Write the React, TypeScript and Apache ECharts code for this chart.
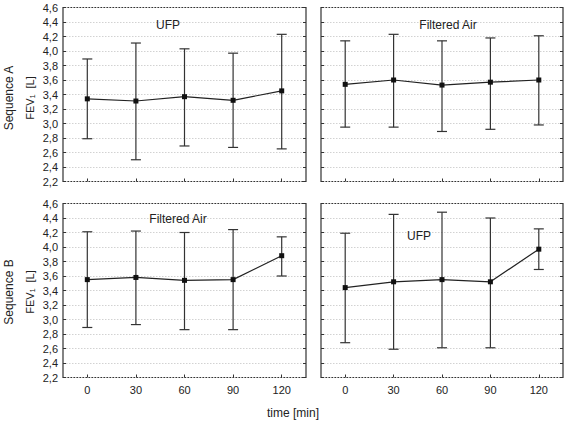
import React, { useEffect, useRef } from "react";
import * as echarts from "echarts";

const times = ["0", "30", "60", "90", "120"];
const yTicks = [2.2, 4.6];

// Sequence A, UFP
const aUfpMean = [3.34, 3.31, 3.37, 3.32, 3.45];
const aUfpLow = [2.79, 2.5, 2.69, 2.67, 2.65];
const aUfpHigh = [3.89, 4.11, 4.03, 3.97, 4.23];
// Sequence A, Filtered Air
const aFaMean = [3.54, 3.6, 3.53, 3.57, 3.6];
const aFaLow = [2.95, 2.95, 2.89, 2.92, 2.98];
const aFaHigh = [4.14, 4.23, 4.14, 4.18, 4.21];
// Sequence B, Filtered Air
const bFaMean = [3.55, 3.58, 3.54, 3.55, 3.88];
const bFaLow = [2.89, 2.93, 2.86, 2.86, 3.6];
const bFaHigh = [4.21, 4.22, 4.2, 4.24, 4.14];
// Sequence B, UFP
const bUfpMean = [3.44, 3.52, 3.55, 3.52, 3.97];
const bUfpLow = [2.68, 2.59, 2.61, 2.61, 3.69];
const bUfpHigh = [4.19, 4.45, 4.48, 4.4, 4.25];

const panelTitles = ["UFP", "Filtered Air", "Filtered Air", "UFP"];

const FONT = "'Liberation Sans', Arial, sans-serif";
const TEXT = "#222";

export default function App() {
  const ref = useRef<HTMLDivElement>(null);
  useEffect(() => {
    if (!ref.current) return;
    const chart = echarts.init(ref.current, undefined, { renderer: "svg" });

    const grids = [
      { left: 63, top: 7.5, width: 243, height: 174 },
      { left: 321, top: 7.5, width: 242, height: 174 },
      { left: 63, top: 203.5, width: 243, height: 174 },
      { left: 321, top: 203.5, width: 242, height: 174 },
    ];
    const panels = [
      { mean: aUfpMean, low: aUfpLow, high: aUfpHigh },
      { mean: aFaMean, low: aFaLow, high: aFaHigh },
      { mean: bFaMean, low: bFaLow, high: bFaHigh },
      { mean: bUfpMean, low: bUfpLow, high: bUfpHigh },
    ];

    const xAxis: any[] = [];
    const yAxis: any[] = [];
    const series: any[] = [];

    grids.forEach((g, i) => {
      const showX = i >= 2;
      const showY = i % 2 === 0;
      xAxis.push({
        type: "category",
        gridIndex: i,
        data: times,
        boundaryGap: true,
        axisLine: { show: false },
        axisTick: { show: true, inside: true, alignWithLabel: true, length: 3, lineStyle: { color: "#333" } },
        axisLabel: { show: showX, fontFamily: FONT, fontSize: 11, color: TEXT, margin: 7 },
        splitLine: { show: false },
      });
      const yBase = {
        type: "value",
        gridIndex: i,
        min: yTicks[0],
        max: yTicks[1],
        interval: 0.2,
        axisLine: { show: false },
        axisTick: { show: true, inside: true, length: 3, lineStyle: { color: "#333" } },
      };
      yAxis.push({
        ...yBase,
        position: "left",
        axisLabel: {
          show: showY,
          fontFamily: FONT,
          fontSize: 11,
          color: TEXT,
          margin: 5,
          formatter: (v: number) => v.toFixed(1).replace(".", ","),
        },
        splitLine: { show: true, lineStyle: { color: "#d2d2d2", type: [1.5, 1.5], width: 1 } },
      });
      yAxis.push({
        ...yBase,
        position: "right",
        axisLabel: { show: false },
        splitLine: { show: false },
      });
      const p = panels[i];
      series.push({
        type: "custom",
        xAxisIndex: i,
        yAxisIndex: i * 2,
        data: times.map((_, k) => [k, p.low[k], p.high[k]]),
        renderItem: (params: any, api: any) => {
          const x = api.value(0);
          const lo = api.coord([x, api.value(1)]);
          const hi = api.coord([x, api.value(2)]);
          const half = 5;
          const style = { stroke: "#333", lineWidth: 1.2 };
          return {
            type: "group",
            children: [
              { type: "line", shape: { x1: lo[0], y1: lo[1], x2: hi[0], y2: hi[1] }, style },
              { type: "line", shape: { x1: hi[0] - half, y1: hi[1], x2: hi[0] + half, y2: hi[1] }, style },
              { type: "line", shape: { x1: lo[0] - half, y1: lo[1], x2: lo[0] + half, y2: lo[1] }, style },
            ],
          };
        },
        z: 2,
      });
      series.push({
        type: "line",
        xAxisIndex: i,
        yAxisIndex: i * 2,
        data: p.mean,
        symbol: "rect",
        symbolSize: 5,
        itemStyle: { color: "#111" },
        lineStyle: { color: "#222", width: 1.2 },
        z: 3,
      });
    });

    const titlePos = [
      { x: 168, y: 25 },
      { x: 448, y: 25 },
      { x: 178, y: 219 },
      { x: 419, y: 236 },
    ];

    const graphic: any[] = [];
    titlePos.forEach((t, i) => {
      graphic.push({
        type: "text",
        x: t.x,
        y: t.y,
        style: {
          text: panelTitles[i],
          font: `12px ${FONT}`,
          fill: TEXT,
          align: "center",
          verticalAlign: "middle",
        },
        z: 10,
      });
    });
    const rowCenters = [98, 292];
    const seqNames = ["Sequence A", "Sequence B"];
    rowCenters.forEach((cy, r) => {
      graphic.push({
        type: "text",
        x: 9,
        y: cy,
        rotation: Math.PI / 2,
        style: {
          text: seqNames[r],
          font: `12px ${FONT}`,
          fill: TEXT,
          align: "center",
          verticalAlign: "middle",
        },
      });
      graphic.push({
        type: "text",
        x: 30,
        y: cy,
        rotation: Math.PI / 2,
        style: {
          text: "FEV\u2081  [L]",
          font: `11px ${FONT}`,
          fill: TEXT,
          align: "center",
          verticalAlign: "middle",
        },
      });
    });
    graphic.push({
      type: "text",
      x: 293,
      y: 413,
      style: {
        text: "time [min]",
        font: `12px ${FONT}`,
        fill: TEXT,
        align: "center",
        verticalAlign: "middle",
      },
    });

    chart.setOption({
      animation: false,
      backgroundColor: "#fff",
      grid: grids.map((g) => ({ ...g, show: true, borderColor: "#333", borderWidth: 1.2, backgroundColor: "transparent" })),
      xAxis,
      yAxis,
      series,
      graphic,
    });
    return () => chart.dispose();
  }, []);

  return (
    <div
      ref={ref}
      style={{ position: "fixed", left: 0, top: 0, width: 567, height: 422 }}
    />
  );
}
